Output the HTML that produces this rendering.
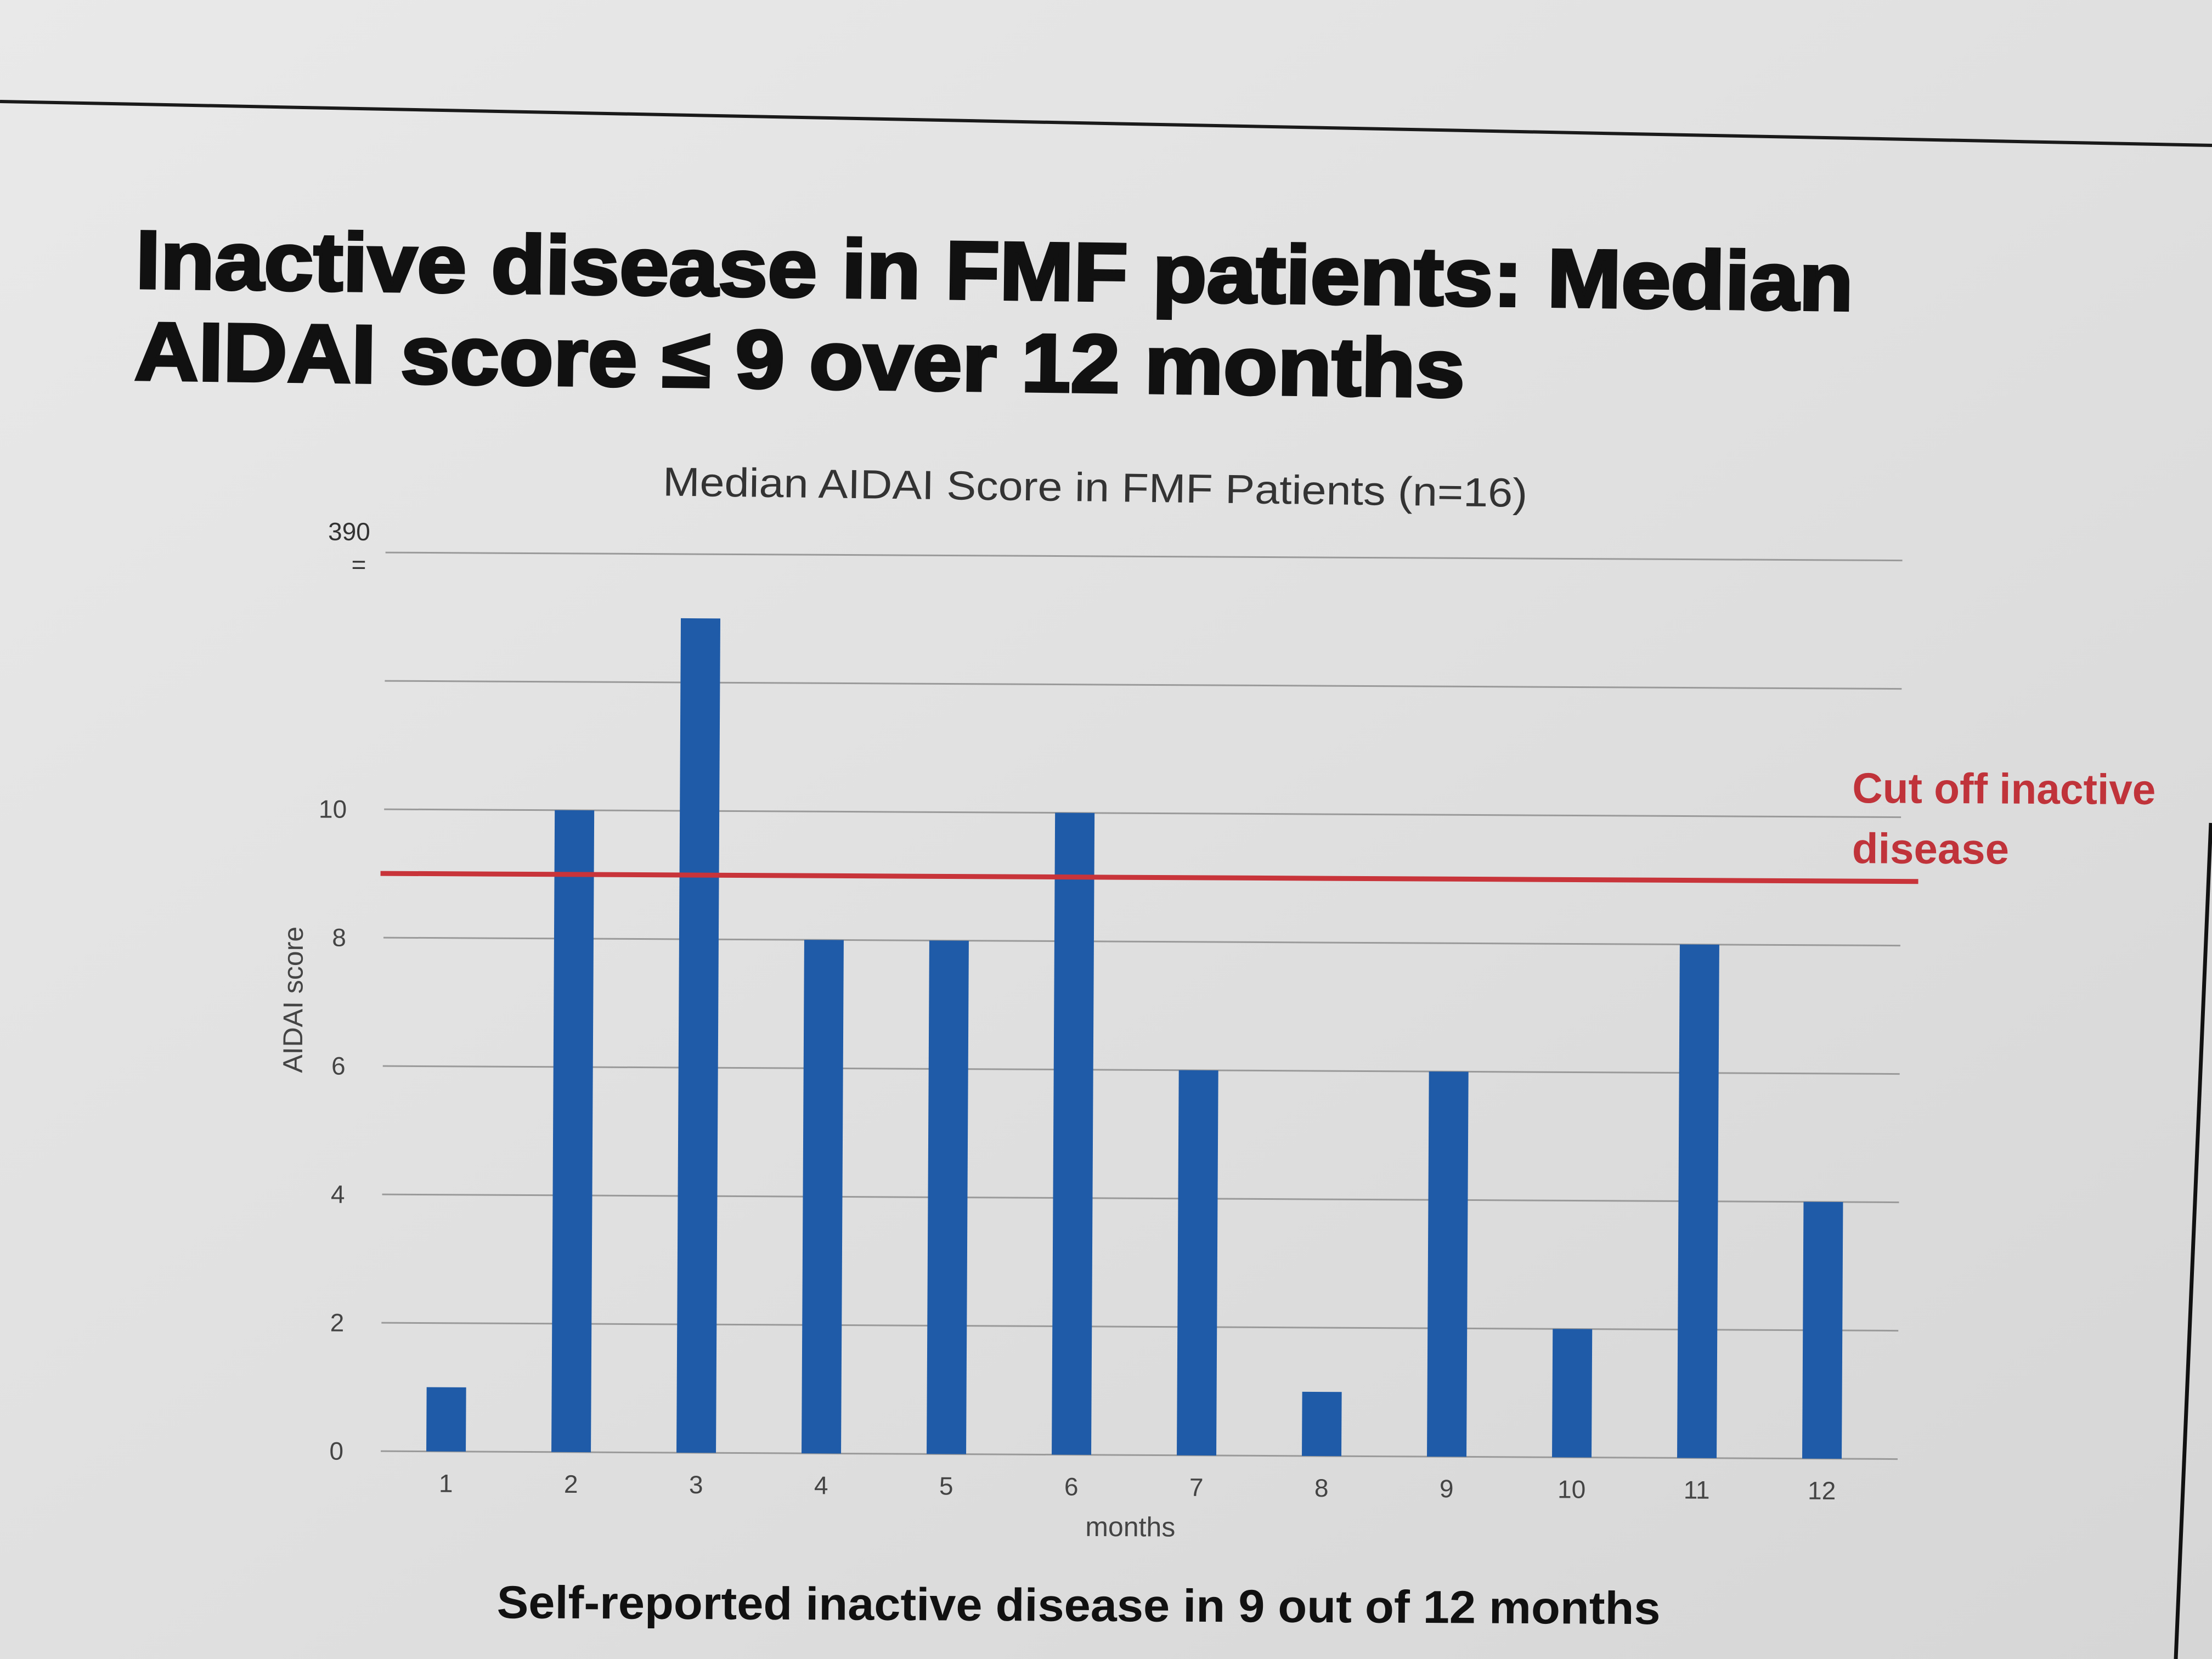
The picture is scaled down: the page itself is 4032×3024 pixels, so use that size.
<!DOCTYPE html>
<html><head><meta charset="utf-8"><style>
html,body{margin:0;padding:0;background:#dcdcdc;}
svg{display:block;font-family:"Liberation Sans",Arial,sans-serif;}
</style></head><body>
<svg id="chart" width="4032" height="3024" viewBox="0 0 4032 3024">
<defs>
<linearGradient id="bg" x1="0" y1="0" x2="1" y2="1">
<stop offset="0" stop-color="#e9e9e9"/><stop offset="0.5" stop-color="#e0e0e0"/><stop offset="1" stop-color="#d6d6d6"/>
</linearGradient>
</defs>
<rect x="0" y="0" width="4032" height="3024" fill="url(#bg)"/>
<line x1="0" y1="185" x2="4032" y2="265" stroke="#1a1a1a" stroke-width="6"/>
<line x1="4030" y1="1500" x2="3966" y2="3024" stroke="#111" stroke-width="7"/>
<g transform="rotate(0.75 2016 1512)">
<text x="234" y="548" font-size="150" font-weight="bold" fill="#111" stroke="#111" stroke-width="5" textLength="3131" lengthAdjust="spacingAndGlyphs">Inactive disease in FMF patients: Median</text>
<text x="234" y="715" font-size="150" font-weight="bold" fill="#111" stroke="#111" stroke-width="5" textLength="2425" lengthAdjust="spacingAndGlyphs">AIDAI score ≤ 9 over 12 months</text>
<text x="1988" y="914" font-size="74" fill="#333" text-anchor="middle" textLength="1576" lengthAdjust="spacingAndGlyphs">Median AIDAI Score in FMF Patients (n=16)</text>
</g>
<g id="content" transform="rotate(0.3 2016 1512)">
<g id="grid"></g>
<g id="yticks"></g>
<text x="672" y="992" font-size="46" fill="#333" text-anchor="end">390</text>
<text x="665" y="1052" font-size="46" fill="#333" text-anchor="end">=</text>
<g id="bars"></g>
<g id="xticks"></g>
<text x="2067" y="2800" font-size="50" fill="#444" text-anchor="middle">months</text>
<text transform="translate(553 1830) rotate(-90)" font-size="50" fill="#444" text-anchor="middle">AIDAI score</text>
<line id="cutline" stroke="#c8343a" stroke-width="9"/>
<text x="3376" y="1456" font-size="78" font-weight="bold" fill="#c0333a" textLength="553" lengthAdjust="spacingAndGlyphs">Cut off inactive</text>
<text x="3376" y="1566" font-size="78" font-weight="bold" fill="#c0333a">disease</text>
<text x="913" y="2955" font-size="84" font-weight="bold" fill="#111" textLength="2121" lengthAdjust="spacingAndGlyphs">Self-reported inactive disease in 9 out of 12 months</text>
</g>
</svg>
<script>
const months = ["1","2","3","4","5","6","7","8","9","10","11","12"];
const scores = [1,10,13,8,8,10,6,1,6,2,8,4];
const yTicks = [0,2,4,6,8,10];
const gridValues = [0,2,4,6,8,10,12,14];
const cutoff = [9];

const NS = "http://www.w3.org/2000/svg";
const y0 = 2652, unit = 117;
const yScale = v => y0 - v * unit;
const xStart = 819, step = 228;
const xScale = i => xStart + i * step;
const gx1 = 700, gx2 = 3465, barW = 72;

function mk(tag, attrs, parent) {
  const e = document.createElementNS(NS, tag);
  for (const k in attrs) e.setAttribute(k, attrs[k]);
  parent.appendChild(e);
  return e;
}
const grid = document.getElementById('grid');
gridValues.forEach(v => {
  const l = mk('line', {x1: gx1, x2: gx2, y1: yScale(v), y2: yScale(v), stroke: '#9a9a9a', 'stroke-width': 3}, grid);
  
  
});
const yt = document.getElementById('yticks');
yTicks.forEach(v => {
  const t = mk('text', {x: 632, y: yScale(v) + 16, 'font-size': 46, fill: '#444', 'text-anchor': 'end'}, yt);
  t.textContent = v;
  
  
});
const bars = document.getElementById('bars');
const xt = document.getElementById('xticks');
scores.forEach((v, i) => {
  const r = mk('rect', {x: xScale(i) - barW / 2, y: yScale(v), width: barW, height: v * unit, fill: '#1f5ba8'}, bars);
  
  
  const t = mk('text', {x: xScale(i), y: 2726, 'font-size': 46, fill: '#444', 'text-anchor': 'middle'}, xt);
  t.textContent = months[i];
  
  
});
const cl = document.getElementById('cutline');
cl.setAttribute('x1', 694); cl.setAttribute('x2', 3497);
cl.setAttribute('y1', yScale(cutoff[0])); cl.setAttribute('y2', yScale(cutoff[0]));
</script>
</body></html>
